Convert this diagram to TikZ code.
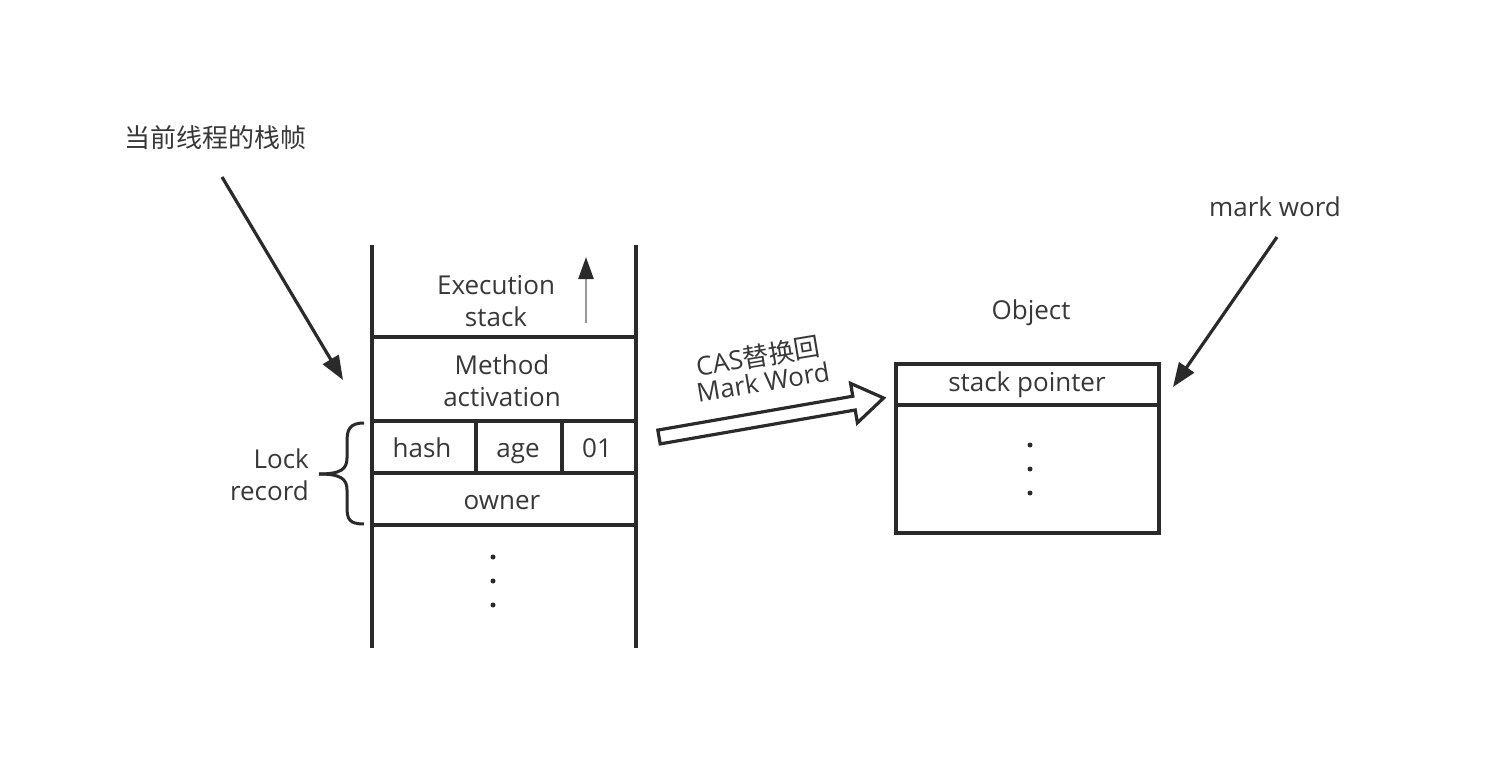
\documentclass[tikz,border=0pt]{standalone}
\usepackage{fontspec}
\setmainfont{Open Sans}
\newfontfamily\cjk{Noto Sans CJK SC}
\usetikzlibrary{arrows.meta}
\definecolor{txt}{HTML}{383838}
\definecolor{ln}{HTML}{2A2A2A}
\tikzset{
  lbl/.style={text=txt, font=\fontsize{26}{32}\selectfont, align=center, inner sep=0pt},
  frame/.style={draw=ln, line width=3.4pt},
  pointer/.style={draw=ln, line width=3.2pt, -{Triangle[length=24pt,width=18pt]}},
  dot/.style={fill=ln, circle, inner sep=0pt, minimum size=5pt},
}
\begin{document}
\begin{tikzpicture}[x=1pt,y=-1pt]
\useasboundingbox[fill=white] (0,0) rectangle (1486,776);
% stack
\draw[frame] (372,245) -- (372,648);
\draw[frame] (636,245) -- (636,648);
\draw[frame] (372,337) -- (636,337);
\draw[frame] (372,421) -- (636,421);
\draw[frame] (372,473) -- (636,473);
\draw[frame] (372,525) -- (636,525);
\draw[frame] (476,421) -- (476,473);
\draw[frame] (562,421) -- (562,473);
\node[lbl] (exec) at (496,301) {Execution\\stack};
\coordinate (upA) at (586,323);
\coordinate (upB) at (586,257);
\draw[draw=gray!80, line width=2.5pt, -{Triangle[length=22pt,width=15pt,color=ln]}] (upA) -- (upB);
\node[lbl] (meth) at (502,381) {Method\\activation};
\node[lbl, anchor=base] (hash) at (422,457) {hash};
\node[lbl, anchor=base] (age) at (518,457) {age};
\node[lbl, anchor=base] (ol) at (597,457) {01};
\node[lbl, anchor=base] (owner) at (502,509) {owner};
\node[dot] (d1) at (493,557) {};
\node[dot] (d2) at (493,581) {};
\node[dot] (d3) at (493,605) {};
% brace
\coordinate (btip) at (319,474);
\draw[frame, line width=3pt] (364,423) .. controls (349,423) and (347,430) .. (347,442) -- (347,458) .. controls (347,469) and (341,474) .. (btip);
\draw[frame, line width=3pt] (btip) .. controls (341,474) and (347,479) .. (347,490) -- (347,507) .. controls (347,519) and (349,524) .. (364,524);
\node[lbl, align=right, anchor=east] (lock) at (309,475) {Lock\\record};
% labels top-left
\node[lbl] (cur) at (215,138) {\cjk\fontsize{26}{30}\selectfont 当前线程的栈帧};
\coordinate (curA) at (222,177);
\coordinate (curB) at (343,380);
\draw[pointer] (curA) -- (curB);
% object
\node[lbl] (objt) at (1031,313) {Object};
\draw[frame] (896,364) rectangle (1159,533);
\draw[frame] (896,405) -- (1159,405);
\node[lbl] (sp) at (1027,385) {stack pointer};
\node[dot] (e1) at (1030,445) {};
\node[dot] (e2) at (1030,469) {};
\node[dot] (e3) at (1030,493) {};
\node[lbl] (mw) at (1275,207) {mark word};
\coordinate (mwA) at (1277,237);
\coordinate (mwB) at (1173,387);
\draw[pointer] (mwA) -- (mwB);
% hollow arrow
\draw[frame, line width=3.2pt, line join=miter] (657.8,430.1) -- (852.8,396.2) -- (850.6,383.4) -- (883.6,398.0) -- (857.4,422.8) -- (855.2,410.0) -- (660.2,443.9) -- cycle;
\node[lbl, rotate=9.5] (cas) at (758,356) {CAS{\cjk 替换回}};
\node[lbl, rotate=9.5] (casmw) at (763,382) {Mark Word};
\end{tikzpicture}
\end{document}
